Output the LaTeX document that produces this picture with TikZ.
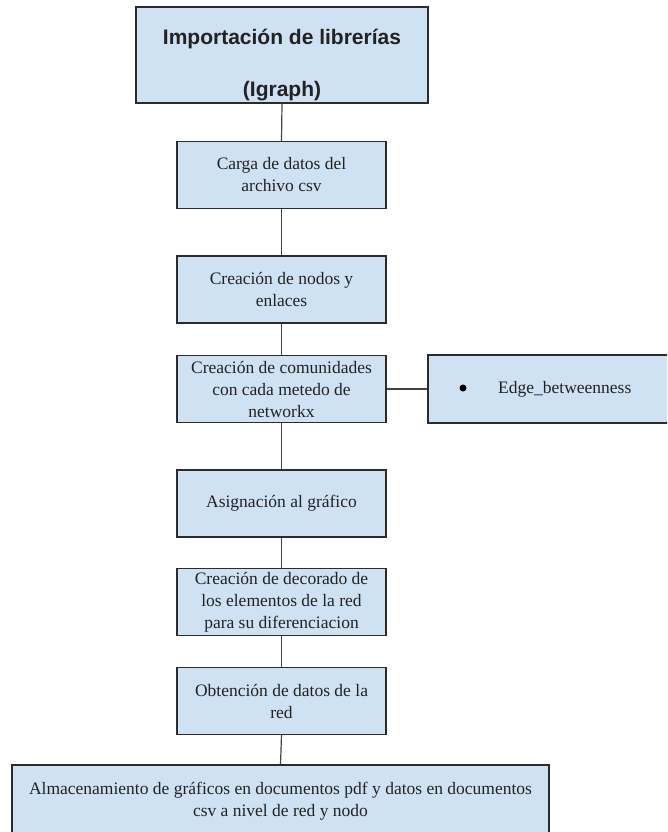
\documentclass[tikz,border=0pt]{standalone}
\usepackage{fontspec}
\setmainfont{Liberation Serif}
\newfontfamily\headfont{Liberation Sans}
\definecolor{boxfill}{HTML}{CFE2F3}
\definecolor{boxline}{HTML}{2B2B2B}
\definecolor{linkline}{HTML}{444444}
\definecolor{txt}{HTML}{222222}
\begin{document}
\begin{tikzpicture}[x=1pt,y=-1pt,
  box/.style={draw=boxline, fill=boxfill, line width=1.2pt, inner sep=0pt,
    align=center, text=txt, minimum width=209pt, minimum height=67pt,
    font=\fontsize{17.5}{22}\selectfont},
  plain/.style={inner sep=0pt, align=center, text=txt, font=\fontsize{17.5}{22}\selectfont},
  headtext/.style={inner sep=0pt, align=center, text=txt,
    font=\headfont\bfseries\fontsize{21}{52}\selectfont},
  dot/.style={circle, fill=black, inner sep=0pt, minimum size=7pt},
  link/.style={draw=linkline, line width=1.2pt}]
\useasboundingbox (0,0) rectangle (667,832);
\clip (0,0) rectangle (667,832);

\node[box, minimum width=292pt, minimum height=96pt] (lib) at (282,55) {};
\node[headtext] (libtext) at (282,65) {Importación de librerías\\(Igraph)};

\node[box] (carga) at (281.5,175) {Carga de datos del\\archivo csv};
\node[box] (nodos) at (281.5,289.5) {Creación de nodos y\\enlaces};
\node[box] (com) at (281.5,389) {Creación de comunidades\\con cada metedo de\\networkx};
\node[box, minimum width=272pt, minimum height=68pt] (alg) at (564,389) {};
\node[dot] (bullet) at (463,388) {};
\node[plain, anchor=west] (algtext) at (498,389) {Edge\_betweenness};
\node[box] (asig) at (281.5,503.5) {Asignación al gráfico};
\node[box] (deco) at (281.5,602) {Creación de decorado de\\los elementos de la red\\para su diferenciacion};
\node[box] (obt) at (281.5,701) {Obtención de datos de la\\red};
\node[box, minimum width=537pt, minimum height=72pt] (alm) at (280.5,801)
  {Almacenamiento de gráficos en documentos pdf y datos en documentos\\csv a nivel de red y nodo};

\draw[link] (lib.south) -- (carga.north);
\draw[link] (carga.south) -- (nodos.north);
\draw[link] (nodos.south) -- (com.north);
\draw[link] (com.east) -- (alg.west);
\draw[link] (com.south) -- (asig.north);
\draw[link] (asig.south) -- (deco.north);
\draw[link] (deco.south) -- (obt.north);
\draw[link] (obt.south) -- (alm.north);
\end{tikzpicture}
\end{document}
